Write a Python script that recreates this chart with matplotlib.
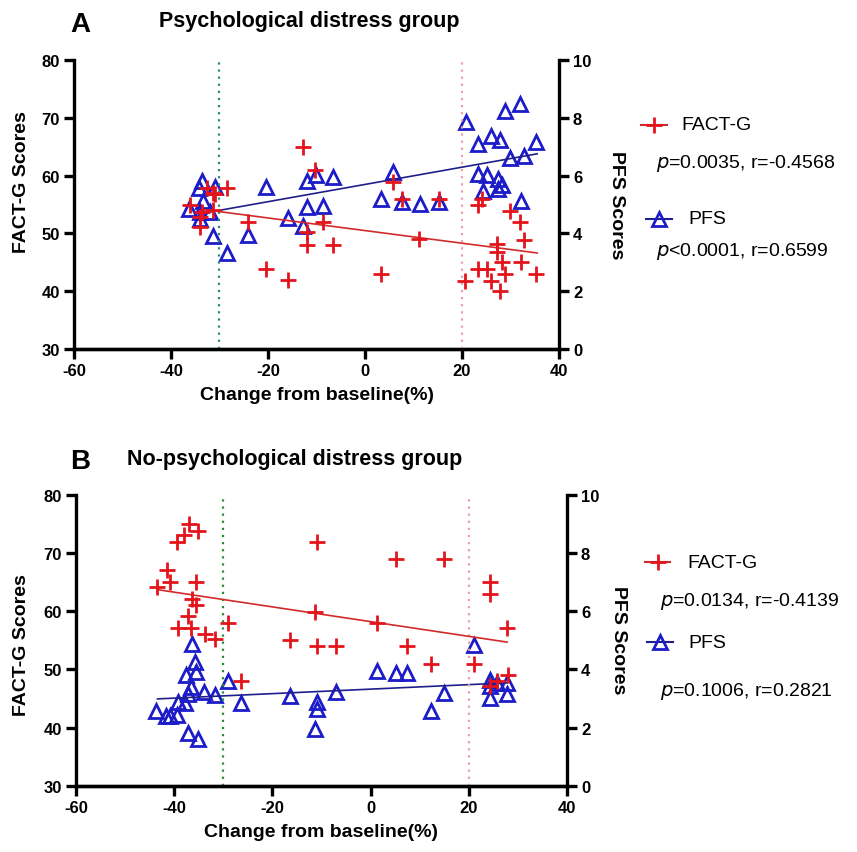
import matplotlib
matplotlib.use("Agg")
import matplotlib.pyplot as plt
from matplotlib.lines import Line2D
import numpy as np

plt.rcParams['font.family'] = ['Liberation Sans', 'DejaVu Sans']
plt.rcParams['axes.unicode_minus'] = False

W, H = 857, 853

# ---------------- Panel A data ----------------
a_fact_x = [-12.7, -28.4, -32.6, -30.9, -31.3, -36.1, -31.4, -33.7, -34.0, -34.0,
            -24.1, -12.0, -12.0, -20.4, -15.8, -10.3, 5.7, 7.6, 15.3, -8.7,
            -6.7, 11.2, 3.3, 24.1, 23.4, 29.8, 32.0, 32.8, 27.3, 27.3,
            28.2, 32.1, 23.4, 25.2, 28.9, 35.3, 20.6, 26.0, 27.8]
a_fact_y = [64.9, 57.9, 57.8, 56.8, 57.0, 54.9, 54.1, 53.7, 52.8, 51.1,
            51.9, 50.2, 47.9, 43.9, 41.9, 61.0, 58.9, 56.0, 56.0, 51.9,
            48.0, 49.0, 43.0, 56.0, 54.9, 53.8, 51.9, 48.9, 48.2, 46.8,
            45.0, 45.0, 43.8, 43.8, 43.0, 43.0, 41.8, 41.8, 40.0]

a_pfs_x = [-33.7, -34.2, -30.9, -33.5, -36.2, -34.0, -32.0, -34.0, -31.3, -28.4,
           -20.5, -24.1, -15.8, -12.7, -11.9, -10.1, -6.7, -12.0, -8.7,
           5.7, 3.4, 7.6, 11.3, 15.3, 20.8, 23.4, 26.0, 27.8, 28.9,
           32.0, 35.3, 29.8, 32.8, 23.2, 25.2, 27.4, 28.2, 24.3, 27.5, 32.1]
a_pfs_y = [5.83, 5.56, 5.60, 5.13, 4.85, 4.73, 4.73, 4.50, 3.92, 3.32,
           5.60, 3.95, 4.53, 4.27, 5.83, 6.03, 5.94, 4.90, 4.96,
           6.14, 5.19, 5.08, 5.02, 5.08, 7.85, 7.10, 7.39, 7.25, 8.26,
           8.49, 7.18, 6.61, 6.69, 6.06, 6.03, 5.89, 5.68, 5.48, 5.54, 5.13]

a_fit_x = [-33.0, 35.5]
a_fact_fit = [54.1, 46.6]
a_pfs_fit = [4.71, 6.76]

# ---------------- Panel B data ----------------
b_fact_x = [-36.9, -35.1, -38.0, -39.5, -41.5, -40.9, -35.6, -43.6, -36.4, -35.6,
            -37.1, -39.2, -36.6, -33.7, -31.6, -29.0, -16.4, -26.3, -10.9, 5.2,
            15.0, 24.3, 24.3, -11.3, 1.4, 27.7, -11.0, -7.0, 7.5, 12.2,
            21.1, 28.0, 25.7, 24.3]
b_fact_y = [75.0, 73.8, 73.0, 71.9, 67.0, 65.0, 65.0, 64.1, 62.1, 61.0,
            59.2, 57.1, 57.1, 56.1, 55.3, 58.0, 55.0, 48.1, 71.8, 68.9,
            68.9, 65.1, 63.0, 59.9, 57.9, 57.1, 54.0, 54.0, 54.0, 51.0,
            51.0, 49.1, 48.1, 47.2]

b_pfs_x = [-36.4, -35.7, -35.6, -37.5, -36.6, -37.2, -33.9, -31.7, -29.0, -39.2,
           -37.8, -43.7, -41.7, -40.9, -39.4, -37.1, -35.2, -26.3, -16.4,
           21.1, 1.4, 5.2, 7.5, 15.0, -7.0, -10.9, -11.0, -11.3, 12.2,
           24.3, 25.7, 24.3, 27.7, 24.3, 27.8]
b_pfs_y = [4.88, 4.27, 3.93, 3.81, 3.39, 3.16, 3.24, 3.13, 3.62, 2.90,
           2.85, 2.56, 2.42, 2.42, 2.44, 1.82, 1.60, 2.84, 3.08,
           4.84, 3.96, 3.87, 3.87, 3.20, 3.22, 2.90, 2.65, 1.94, 2.59,
           3.65, 3.54, 3.45, 3.54, 3.02, 3.16]

b_fit_x = [-43.4, 27.8]
b_fact_fit = [63.7, 54.7]
b_pfs_fit = [2.99, 3.54]

x_ticks = [-60, -40, -20, 0, 20, 40]
left_ticks = [30, 40, 50, 60, 70, 80]
right_ticks = [0, 2, 4, 6, 8, 10]

RED = '#e3141b'
BLUE = '#1c1cc8'
RED_LINE = '#d22a2a'
BLUE_LINE = '#1f1f8c'
PINK = '#e9a0a6'


def fx(x):
    return x / W


def fy(y):
    return 1 - y / H


fig = plt.figure(figsize=(W / 100, H / 100), dpi=100)


def make_panel(rect, fx_data, fy_data, px_data, py_data, fit_x, fact_fit, pfs_fit, green):
    ax = fig.add_axes(rect)
    ax2 = ax.twinx()
    ax.set_zorder(ax2.get_zorder() + 1)
    ax.patch.set_visible(False)

    ax.set_xlim(-60, 40)
    ax.set_ylim(30, 80)
    ax2.set_ylim(0, 10)

    ax.axvline(-30, color=green, lw=1.6, ls=(0, (1, 2.2)), zorder=1)
    ax.axvline(20, color=PINK, lw=1.6, ls=(0, (1, 2.2)), zorder=1)

    ax2.plot(px_data, py_data, ls='none', marker='^', ms=10.5, mfc='none',
             mec=BLUE, mew=2.0)
    ax2.plot(fit_x, pfs_fit, color=BLUE_LINE, lw=1.2)
    ax.plot(fit_x, fact_fit, color=RED_LINE, lw=1.2, zorder=2)
    ax.plot(fx_data, fy_data, ls='none', marker='+', ms=11, mec=RED, mew=2.0, zorder=3)

    ax.set_xticks(x_ticks)
    ax.set_yticks(left_ticks)
    ax2.set_yticks(right_ticks)
    for a in (ax, ax2):
        for s in a.spines.values():
            s.set_linewidth(2.4)
        a.spines['top'].set_visible(False)
        a.tick_params(axis='both', width=2.4, length=7, labelsize=12, direction='out', pad=3)
        for lab in a.get_xticklabels() + a.get_yticklabels():
            lab.set_fontweight('bold')
    ax.spines['right'].set_visible(False)
    ax2.spines['left'].set_visible(False)
    ax.set_xlabel('Change from baseline(%)', fontsize=14, fontweight='bold', labelpad=6)
    return ax, ax2


# Panel A
rectA = [fx(74), fy(349.7), (559 - 74) / W, (349.7 - 61.4) / H]
make_panel(rectA, a_fact_x, a_fact_y, a_pfs_x, a_pfs_y, a_fit_x, a_fact_fit, a_pfs_fit, '#2a8a78')

# Panel B
rectB = [fx(76), fy(787), (567 - 76) / W, (787 - 495.7) / H]
make_panel(rectB, b_fact_x, b_fact_y, b_pfs_x, b_pfs_y, b_fit_x, b_fact_fit, b_pfs_fit, '#2a8a3a')

# Texts
fig.text(fx(80), fy(25), 'A', fontsize=20, fontweight='bold', ha='center', va='center')
fig.text(fx(309), fy(21), 'Psychological distress group', fontsize=15.5, fontweight='bold',
         ha='center', va='center')
fig.text(fx(80), fy(462), 'B', fontsize=20, fontweight='bold', ha='center', va='center')
fig.text(fx(295), fy(460), 'No-psychological distress group', fontsize=15.5, fontweight='bold',
         ha='center', va='center')

fig.text(fx(22), fy(182), 'FACT-G Scores', fontsize=14, fontweight='bold', rotation=90,
         ha='center', va='center')
fig.text(fx(22), fy(645), 'FACT-G Scores', fontsize=14, fontweight='bold', rotation=90,
         ha='center', va='center')
fig.text(fx(617), fy(205), 'PFS Scores', fontsize=14, fontweight='bold', rotation=270,
         ha='center', va='center')
fig.text(fx(618), fy(640), 'PFS Scores', fontsize=14, fontweight='bold', rotation=270,
         ha='center', va='center')


def legend_block(y_fact, y_p1, y_pfs, y_p2, hx1, hx2, tx1, hx3, hx4, tx2, px, p1, p2):
    fig.add_artist(Line2D([fx(hx1), fx(hx2)], [fy(y_fact), fy(y_fact)], color=RED_LINE, lw=1.5))
    fig.add_artist(Line2D([fx((hx1 + hx2) / 2)], [fy(y_fact)], marker='+', ms=11, mec=RED,
                          mew=2.0, ls='none'))
    fig.text(fx(tx1), fy(y_fact), 'FACT-G', fontsize=14, ha='left', va='center')
    fig.text(fx(px), fy(y_p1), p1, fontsize=14, ha='left', va='center')
    fig.add_artist(Line2D([fx(hx3), fx(hx4)], [fy(y_pfs), fy(y_pfs)], color=BLUE_LINE, lw=1.5))
    fig.add_artist(Line2D([fx((hx3 + hx4) / 2)], [fy(y_pfs)], marker='^', ms=10.5, mfc='none',
                          mec=BLUE, mew=2.0, ls='none'))
    fig.text(fx(tx2), fy(y_pfs), 'PFS', fontsize=14, ha='left', va='center')
    fig.text(fx(px), fy(y_p2), p2, fontsize=14, ha='left', va='center')


legend_block(126, 163, 220, 252, 641, 667, 681, 646, 672, 688, 656,
             r'$\it{p}$=0.0035, r=-0.4568', r'$\it{p}$<0.0001, r=0.6599')
legend_block(563, 602, 643, 692, 645, 670, 687, 647, 673, 688, 660,
             r'$\it{p}$=0.0134, r=-0.4139', r'$\it{p}$=0.1006, r=0.2821')

fig.savefig('out.png', dpi=100)
